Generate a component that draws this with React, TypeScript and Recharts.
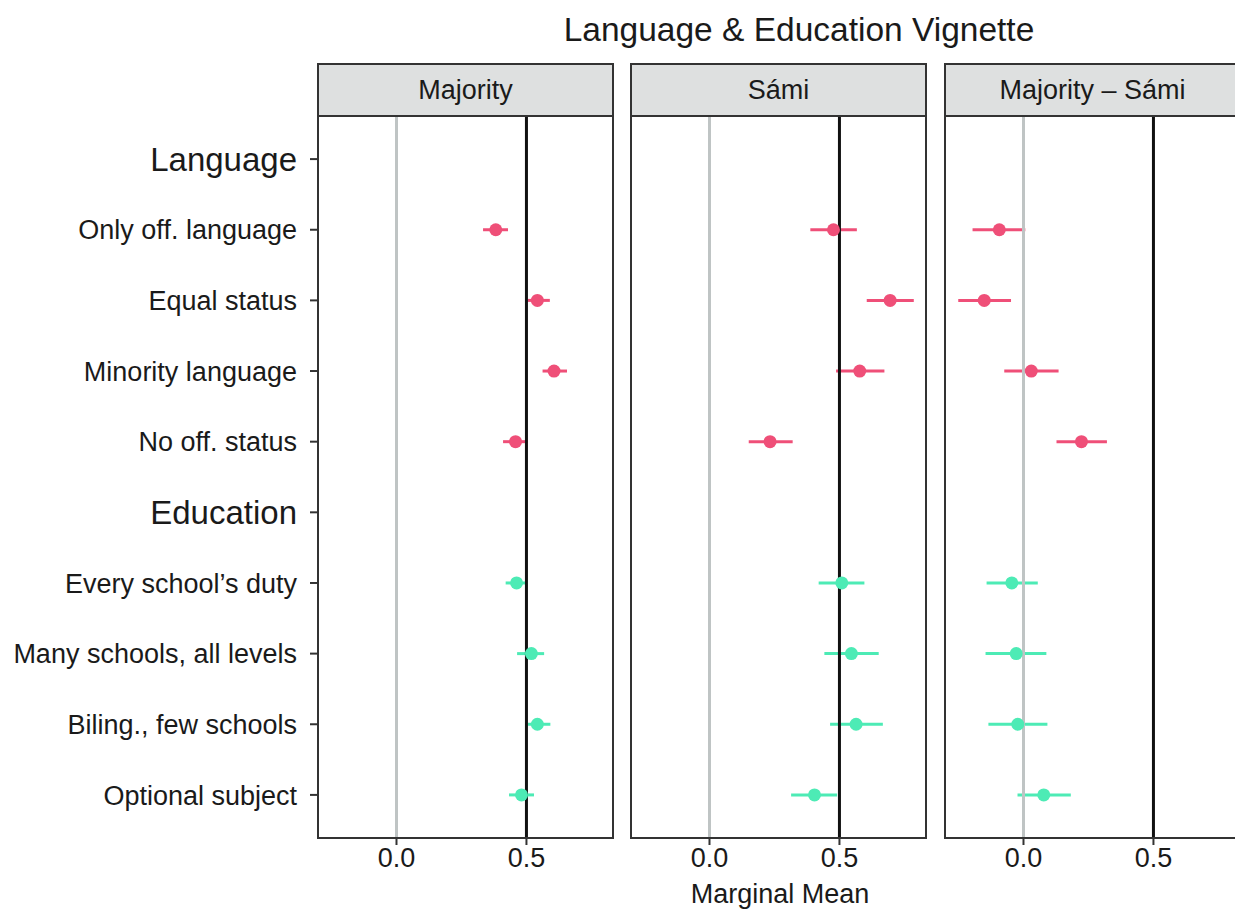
import React from 'react';
import { ScatterChart, Scatter, XAxis, YAxis, ErrorBar, ReferenceLine } from 'recharts';

// row labels, top to bottom (headers have no estimates)
const rowLabels = [
  'Language',
  'Only off. language',
  'Equal status',
  'Minority language',
  'No off. status',
  'Education',
  'Every school’s duty',
  'Many schools, all levels',
  'Biling., few schools',
  'Optional subject',
];
const headerRows = ['Language', 'Education'];
const languageRows = [1, 2, 3, 4];
const educationRows = [6, 7, 8, 9];

const panelNames = ['Majority', 'Sámi', 'Majority – Sámi'];

// estimates and 95% bounds: 4 language levels then 4 education levels
const majorityEst = [0.382, 0.542, 0.606, 0.458, 0.462, 0.519, 0.542, 0.481];
const majorityLow = [0.333, 0.504, 0.562, 0.41, 0.42, 0.464, 0.506, 0.433];
const majorityHigh = [0.429, 0.59, 0.656, 0.504, 0.5, 0.568, 0.592, 0.529];

const samiEst = [0.477, 0.695, 0.578, 0.233, 0.509, 0.546, 0.564, 0.404];
const samiLow = [0.388, 0.605, 0.487, 0.151, 0.42, 0.442, 0.464, 0.314];
const samiHigh = [0.567, 0.786, 0.673, 0.32, 0.596, 0.651, 0.667, 0.491];

const diffEst = [-0.093, -0.151, 0.03, 0.223, -0.045, -0.028, -0.022, 0.078];
const diffLow = [-0.196, -0.251, -0.074, 0.127, -0.142, -0.146, -0.135, -0.023];
const diffHigh = [0.007, -0.048, 0.135, 0.321, 0.055, 0.088, 0.092, 0.182];

const xTicks = [0, 0.5];

const RED = '#EF4F78';
const GREEN = '#4DEBB5';
const INK = '#1a1a1a';
const FONT = '"Liberation Sans", Arial, Helvetica, sans-serif';
const TEXT_SIZE = 27;

const buildRows = (rows: number[], est: number[], lo: number[], hi: number[], offset: number) =>
  rows.map((row, i) => ({
    y: row,
    x: est[i + offset],
    err: [est[i + offset] - lo[i + offset], hi[i + offset] - est[i + offset]],
  }));

const panelData = [
  [majorityEst, majorityLow, majorityHigh],
  [samiEst, samiLow, samiHigh],
  [diffEst, diffLow, diffHigh],
].map(([est, lo, hi]) => ({
  language: buildRows(languageRows, est, lo, hi, 0),
  education: buildRows(educationRows, est, lo, hi, 4),
}));

const RowTick = (props: any) => {
  const { x, y, payload } = props;
  const label = rowLabels[payload.value];
  const isHeader = headerRows.includes(label);
  return (
    <text x={x} y={y} dy="0.36em" textAnchor="end" fontSize={isHeader ? 33 : TEXT_SIZE} fill={INK} fontFamily={FONT}>
      {label}
    </text>
  );
};

const dot = (color: string) => (p: any) => <circle cx={p.cx} cy={p.cy} r={6.5} fill={color} />;

const panelLeft = [317, 630, 944];
const PANEL_W = 297;

const Panel = ({ idx }: { idx: number }) => {
  const first = idx === 0;
  const data = panelData[idx];
  const yAxisW = 318;
  const left = first ? 0 : panelLeft[idx] + 1;
  const width = first ? 614 : 295;
  return (
    <div style={{ position: 'absolute', left, top: 0 }}>
      <ScatterChart width={width} height={915} margin={{ top: 116, right: first ? 1 : 0, bottom: 37, left: 0 }}>
        <XAxis
          type="number"
          dataKey="x"
          domain={[-0.302, 0.833]}
          allowDataOverflow
          ticks={xTicks}
          tickFormatter={(v: number) => v.toFixed(1)}
          axisLine={false}
          tickSize={7}
          tickMargin={3}
          tickLine={{ stroke: '#333', strokeWidth: 2 }}
          tick={{ fontSize: TEXT_SIZE, fill: INK, fontFamily: FONT }}
          height={40}
        />
        <YAxis
          type="number"
          dataKey="y"
          domain={[-0.61, 9.61]}
          reversed
          allowDataOverflow
          ticks={rowLabels.map((_, i) => i)}
          interval={0}
          hide={!first}
          width={yAxisW}
          axisLine={false}
          tickSize={8}
          tickMargin={13}
          tickLine={{ stroke: '#333', strokeWidth: 2 }}
          tick={<RowTick />}
        />
        <Scatter data={data.language} fill={RED} shape={dot(RED)} isAnimationActive={false}>
          <ErrorBar dataKey="err" direction="x" width={0} stroke={RED} strokeWidth={3} />
        </Scatter>
        <Scatter data={data.education} fill={GREEN} shape={dot(GREEN)} isAnimationActive={false}>
          <ErrorBar dataKey="err" direction="x" width={0} stroke={GREEN} strokeWidth={3} />
        </Scatter>
        <ReferenceLine x={0} stroke="#BFC4C4" strokeWidth={3} />
        <ReferenceLine x={0.5} stroke="#111" strokeWidth={3} />
      </ScatterChart>
    </div>
  );
};

export default function App() {
  return (
    <div
      style={{
        position: 'absolute',
        left: 0,
        top: 0,
        width: 1235,
        height: 915,
        overflow: 'hidden',
        background: '#fff',
        fontFamily: FONT,
        color: INK,
      }}
    >
      <div style={{ position: 'absolute', left: 499, top: 12, width: 600, textAlign: 'center', fontSize: 33.5, lineHeight: '36px' }}>
        Language &amp; Education Vignette
      </div>
      {panelNames.map((name, i) => (
        <div
          key={name}
          style={{
            position: 'absolute',
            left: panelLeft[i],
            top: 63,
            width: PANEL_W,
            height: 54,
            boxSizing: 'border-box',
            border: '2px solid #333',
            background: '#DEE0E0',
            textAlign: 'center',
            fontSize: TEXT_SIZE,
            lineHeight: '50px',
          }}
        >
          {name}
        </div>
      ))}
      {[0, 1, 2].map((i) => (
        <Panel key={i} idx={i} />
      ))}
      {panelNames.map((name, i) => (
        <div
          key={name + '-box'}
          style={{
            position: 'absolute',
            left: panelLeft[i],
            top: 115,
            width: PANEL_W,
            height: 724,
            boxSizing: 'border-box',
            border: '2px solid #333',
            pointerEvents: 'none',
          }}
        />
      ))}
      <div style={{ position: 'absolute', left: 580, top: 878, width: 400, textAlign: 'center', fontSize: TEXT_SIZE, lineHeight: '32px' }}>
        Marginal Mean
      </div>
    </div>
  );
}
